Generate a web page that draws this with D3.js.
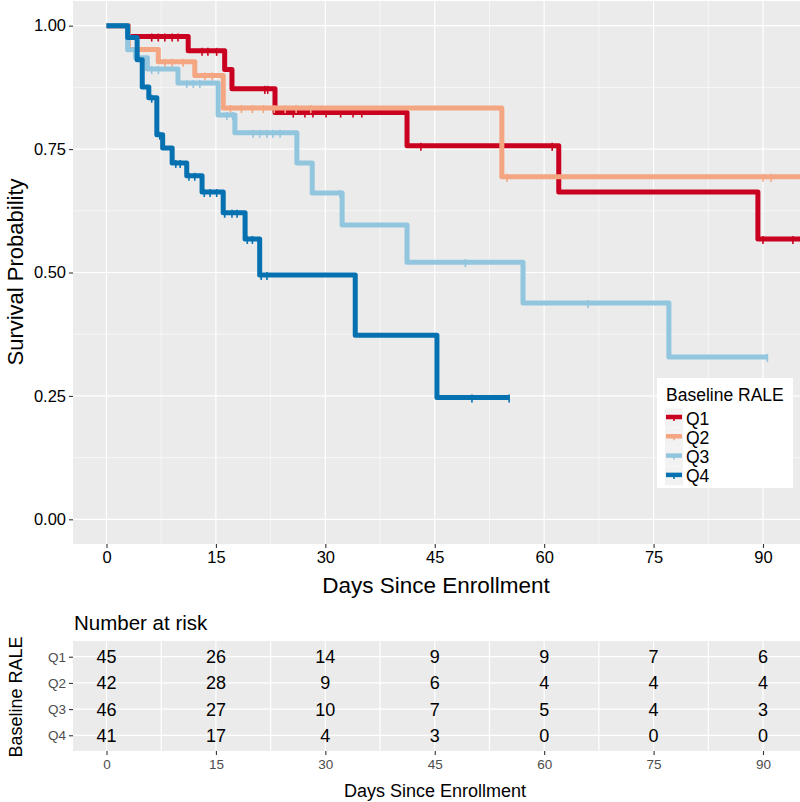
<!DOCTYPE html>
<html>
<head>
<meta charset="utf-8">
<script src="https://cdn.jsdelivr.net/npm/d3@7"></script>
<style>
  html, body { margin: 0; padding: 0; background: #fff; }
  svg { display: block; font-family: "Liberation Sans", Arial, sans-serif; }
</style>
</head>
<body>
<svg id="chart" width="800" height="802"></svg>
<script>
// ---------- DATA ----------
const groups = ["Q1", "Q2", "Q3", "Q4"];
const colors = ["#CA0020", "#F4A582", "#92C5DE", "#0571B0"];

// Kaplan-Meier steps: event times (days) and survival after each step
const q1Times = [0, 3, 11.2, 16.2, 17.2, 23.1, 41.2, 62.0, 89.3, 97];
const q1Surv  = [1.0, 0.978, 0.949, 0.911, 0.872, 0.824, 0.757, 0.663, 0.568, 0.568];
const q2Times = [0, 3, 7.1, 12.1, 16.0, 54.2, 97];
const q2Surv  = [1.0, 0.952, 0.927, 0.899, 0.833, 0.694, 0.694];
const q3Times = [0, 2.9, 4.0, 5.6, 9.8, 15.3, 17.6, 26.1, 28.2, 32.3, 41.2, 57.1, 77.1, 90.6];
const q3Surv  = [1.0, 0.951, 0.935, 0.912, 0.884, 0.819, 0.783, 0.722, 0.661, 0.596, 0.521, 0.438, 0.329, 0.329];
const q4Times = [0, 2.9, 4.2, 4.9, 5.8, 6.9, 7.7, 9.0, 11.0, 13.1, 16.0, 19.0, 21.0, 34.1, 45.3, 55.2];
const q4Surv  = [1.0, 0.976, 0.931, 0.876, 0.854, 0.779, 0.752, 0.722, 0.696, 0.663, 0.621, 0.568, 0.495, 0.373, 0.247, 0.247];

// censoring times (days)
const q1Cens = [6.2, 7.1, 8.0, 9.0, 9.8, 13.1, 13.9, 15.1, 21.7, 22.1, 25.6, 27.2, 28.3, 30.1, 32.1, 33.8, 35.0, 43.1, 61.1, 90.0, 94.1];
const q2Cens = [8.0, 9.0, 10.5, 13.5, 14.5, 17.0, 18.5, 20.0, 21.5, 23.0, 24.5, 26.0, 28.0, 54.9, 90.0, 91.1];
const q3Cens = [6.2, 7.1, 11.0, 11.9, 12.8, 16.5, 17.3, 20.1, 21.0, 22.0, 22.8, 23.8, 32.0, 49.2, 66.0, 90.6];
const q4Cens = [6.2, 7.3, 9.5, 10.1, 11.3, 12.1, 13.4, 14.2, 15.1, 16.2, 17.2, 17.9, 19.3, 20.0, 21.2, 22.0, 50.1, 55.2];

// y ticks and x ticks
const yTicks = [0, 0.25, 0.5, 0.75, 1.0];
const yTickLabels = ["0.00", "0.25", "0.50", "0.75", "1.00"];
const xTicks = [0, 15, 30, 45, 60, 75, 90];

// Number at risk table
const riskTimes = [0, 15, 30, 45, 60, 75, 90];
const riskQ1 = [45, 26, 14, 9, 9, 7, 6];
const riskQ2 = [42, 28, 9, 6, 4, 4, 4];
const riskQ3 = [46, 27, 10, 7, 5, 4, 3];
const riskQ4 = [41, 17, 4, 3, 0, 0, 0];

const seriesTimes = [q1Times, q2Times, q3Times, q4Times];
const seriesSurv = [q1Surv, q2Surv, q3Surv, q4Surv];
const seriesCens = [q1Cens, q2Cens, q3Cens, q4Cens];
const riskRows = [riskQ1, riskQ2, riskQ3, riskQ4];

// ---------- LAYOUT ----------
const svg = d3.select("#chart");
const panelL = 73, panelR = 811;
const x = d3.scaleLinear().domain([0, 90]).range([106.5, 763]);
const xMin = x.invert(panelL), xMax = x.invert(panelR);

const topT = 1, topB = 544;
const y = d3.scaleLinear().domain([-0.05, 1.05]).range([topB, topT]);

const panelBg = "#EBEBEB";

// ---------- TOP PANEL ----------
const topG = svg.append("g");
topG.append("rect").attr("x", panelL).attr("y", topT).attr("width", panelR - panelL).attr("height", topB - topT).attr("fill", panelBg);

const xMinor = d3.range(-7.5, 100, 15).filter(v => v > xMin && v < xMax);
const yMinor = [0.125, 0.375, 0.625, 0.875];
topG.selectAll(".yminor").data(yMinor).enter().append("line")
  .attr("x1", panelL).attr("x2", panelR).attr("y1", d => y(d)).attr("y2", d => y(d))
  .attr("stroke", "#fff").attr("stroke-width", 0.6);
topG.selectAll(".xminor").data(xMinor).enter().append("line")
  .attr("y1", topT).attr("y2", topB).attr("x1", d => x(d)).attr("x2", d => x(d))
  .attr("stroke", "#fff").attr("stroke-width", 0.6);
topG.selectAll(".ymajor").data(yTicks).enter().append("line")
  .attr("x1", panelL).attr("x2", panelR).attr("y1", d => y(d)).attr("y2", d => y(d))
  .attr("stroke", "#fff").attr("stroke-width", 1.2);
topG.selectAll(".xmajor").data(xTicks).enter().append("line")
  .attr("y1", topT).attr("y2", topB).attr("x1", d => x(d)).attr("x2", d => x(d))
  .attr("stroke", "#fff").attr("stroke-width", 1.2);

// clip
svg.append("clipPath").attr("id", "clipTop").append("rect")
  .attr("x", panelL).attr("y", topT).attr("width", panelR - panelL).attr("height", topB - topT);

const curves = topG.append("g").attr("clip-path", "url(#clipTop)");
const line = d3.line().x(d => x(d[0])).y(d => y(d[1])).curve(d3.curveStepAfter);

function survAt(times, surv, t) {
  let s = surv[0];
  for (let i = 0; i < times.length; i++) { if (times[i] <= t) s = surv[i]; }
  return s;
}

groups.forEach((g, i) => {
  const pts = seriesTimes[i].map((t, j) => [t, seriesSurv[i][j]]);
  curves.append("path").attr("d", line(pts)).attr("fill", "none")
    .attr("stroke", colors[i]).attr("stroke-width", 5)
    .attr("stroke-linejoin", "round").attr("stroke-linecap", "butt");
  const cg = curves.append("g");
  seriesCens[i].forEach(t => {
    const s = survAt(seriesTimes[i], seriesSurv[i], t);
    cg.append("line").attr("x1", x(t)).attr("x2", x(t))
      .attr("y1", y(s) - 3).attr("y2", y(s) + 5)
      .attr("stroke", colors[i]).attr("stroke-width", 1.6);
  });
});

// axes for top panel
const yAxis = d3.axisLeft(y).tickValues(yTicks).tickFormat((d, i) => yTickLabels[i]).tickSize(4).tickPadding(3);
const gy = svg.append("g").attr("transform", `translate(${panelL},0)`).call(yAxis);
gy.select(".domain").remove();
gy.selectAll(".tick line").attr("stroke", "#333").attr("stroke-width", 1.1);
gy.selectAll(".tick text").attr("fill", "#000").style("font-size", "16.5px").style("font-family", "Liberation Sans, Arial, sans-serif");

const xAxis = d3.axisBottom(x).tickValues(xTicks).tickSize(4).tickPadding(3);
const gx = svg.append("g").attr("transform", `translate(0,${topB})`).call(xAxis);
gx.select(".domain").remove();
gx.selectAll(".tick line").attr("stroke", "#333").attr("stroke-width", 1.1);
gx.selectAll(".tick text").attr("fill", "#000").style("font-size", "16.5px").style("font-family", "Liberation Sans, Arial, sans-serif");

svg.append("text").attr("x", 436).attr("y", 593).attr("text-anchor", "middle")
  .style("font-size", "22.5px").attr("fill", "#000").text("Days Since Enrollment");
svg.append("text").attr("transform", "translate(23,272) rotate(-90)").attr("text-anchor", "middle")
  .style("font-size", "22px").attr("fill", "#000").text("Survival Probability");

// legend
const lg = svg.append("g").attr("transform", "translate(657,378)");
lg.append("rect").attr("width", 136).attr("height", 110).attr("fill", "#fff");
lg.append("text").attr("x", 9).attr("y", 23).style("font-size", "17.5px").attr("fill", "#000").text("Baseline RALE");
groups.forEach((g, i) => {
  const cy = 40 + i * 19.3;
  lg.append("rect").attr("x", 8).attr("y", cy - 9.5).attr("width", 18).attr("height", 19).attr("fill", "#F2F2F2");
  lg.append("line").attr("x1", 9).attr("x2", 25).attr("y1", cy - 1).attr("y2", cy - 1)
    .attr("stroke", colors[i]).attr("stroke-width", 4.5);
  lg.append("line").attr("x1", 17).attr("x2", 17).attr("y1", cy - 3).attr("y2", cy + 3)
    .attr("stroke", colors[i]).attr("stroke-width", 1.6);
  lg.append("text").attr("x", 29).attr("y", cy + 6.5).style("font-size", "17.5px").attr("fill", "#000").text(g);
});

// ---------- RISK TABLE ----------
const tT = 641, tB = 751;
const yr = d3.scalePoint().domain(groups).range([tT, tB]).padding(0.6);
const tbl = svg.append("g");
tbl.append("rect").attr("x", panelL).attr("y", tT).attr("width", panelR - panelL).attr("height", tB - tT).attr("fill", panelBg);
tbl.selectAll(".txminor").data(xMinor).enter().append("line")
  .attr("y1", tT).attr("y2", tB).attr("x1", d => x(d)).attr("x2", d => x(d))
  .attr("stroke", "#fff").attr("stroke-width", 1.2);
tbl.selectAll(".txmajor").data(riskTimes).enter().append("line")
  .attr("y1", tT).attr("y2", tB).attr("x1", d => x(d)).attr("x2", d => x(d))
  .attr("stroke", "#fff").attr("stroke-width", 1.2);
tbl.selectAll(".tymajor").data(groups).enter().append("line")
  .attr("x1", panelL).attr("x2", panelR).attr("y1", d => yr(d)).attr("y2", d => yr(d))
  .attr("stroke", "#fff").attr("stroke-width", 1.2);

groups.forEach((g, i) => {
  riskRows[i].forEach((n, j) => {
    tbl.append("text").attr("x", x(riskTimes[j])).attr("y", yr(g) + 6.5)
      .attr("text-anchor", "middle").style("font-size", "18px").attr("fill", "#000").text(n);
  });
});

const tyAxis = d3.axisLeft(yr).tickSize(4).tickPadding(3);
const gty = svg.append("g").attr("transform", `translate(${panelL},0)`).call(tyAxis);
gty.select(".domain").remove();
gty.selectAll(".tick line").attr("stroke", "#333").attr("stroke-width", 1.1);
gty.selectAll(".tick text").attr("fill", "#4D4D4D").style("font-size", "13.5px").style("font-family", "Liberation Sans, Arial, sans-serif");

const txAxis = d3.axisBottom(x).tickValues(riskTimes).tickSize(4).tickPadding(4);
const gtx = svg.append("g").attr("transform", `translate(0,${tB})`).call(txAxis);
gtx.select(".domain").remove();
gtx.selectAll(".tick line").attr("stroke", "#333").attr("stroke-width", 1.1);
gtx.selectAll(".tick text").attr("fill", "#4D4D4D").style("font-size", "13.5px").style("font-family", "Liberation Sans, Arial, sans-serif");

svg.append("text").attr("x", 74).attr("y", 630).style("font-size", "20.5px").attr("fill", "#000").text("Number at risk");
svg.append("text").attr("x", 435).attr("y", 797).attr("text-anchor", "middle")
  .style("font-size", "18px").attr("fill", "#000").text("Days Since Enrollment");
svg.append("text").attr("transform", "translate(22,697) rotate(-90)").attr("text-anchor", "middle")
  .style("font-size", "18px").attr("fill", "#000").text("Baseline RALE");
</script>
</body>
</html>
